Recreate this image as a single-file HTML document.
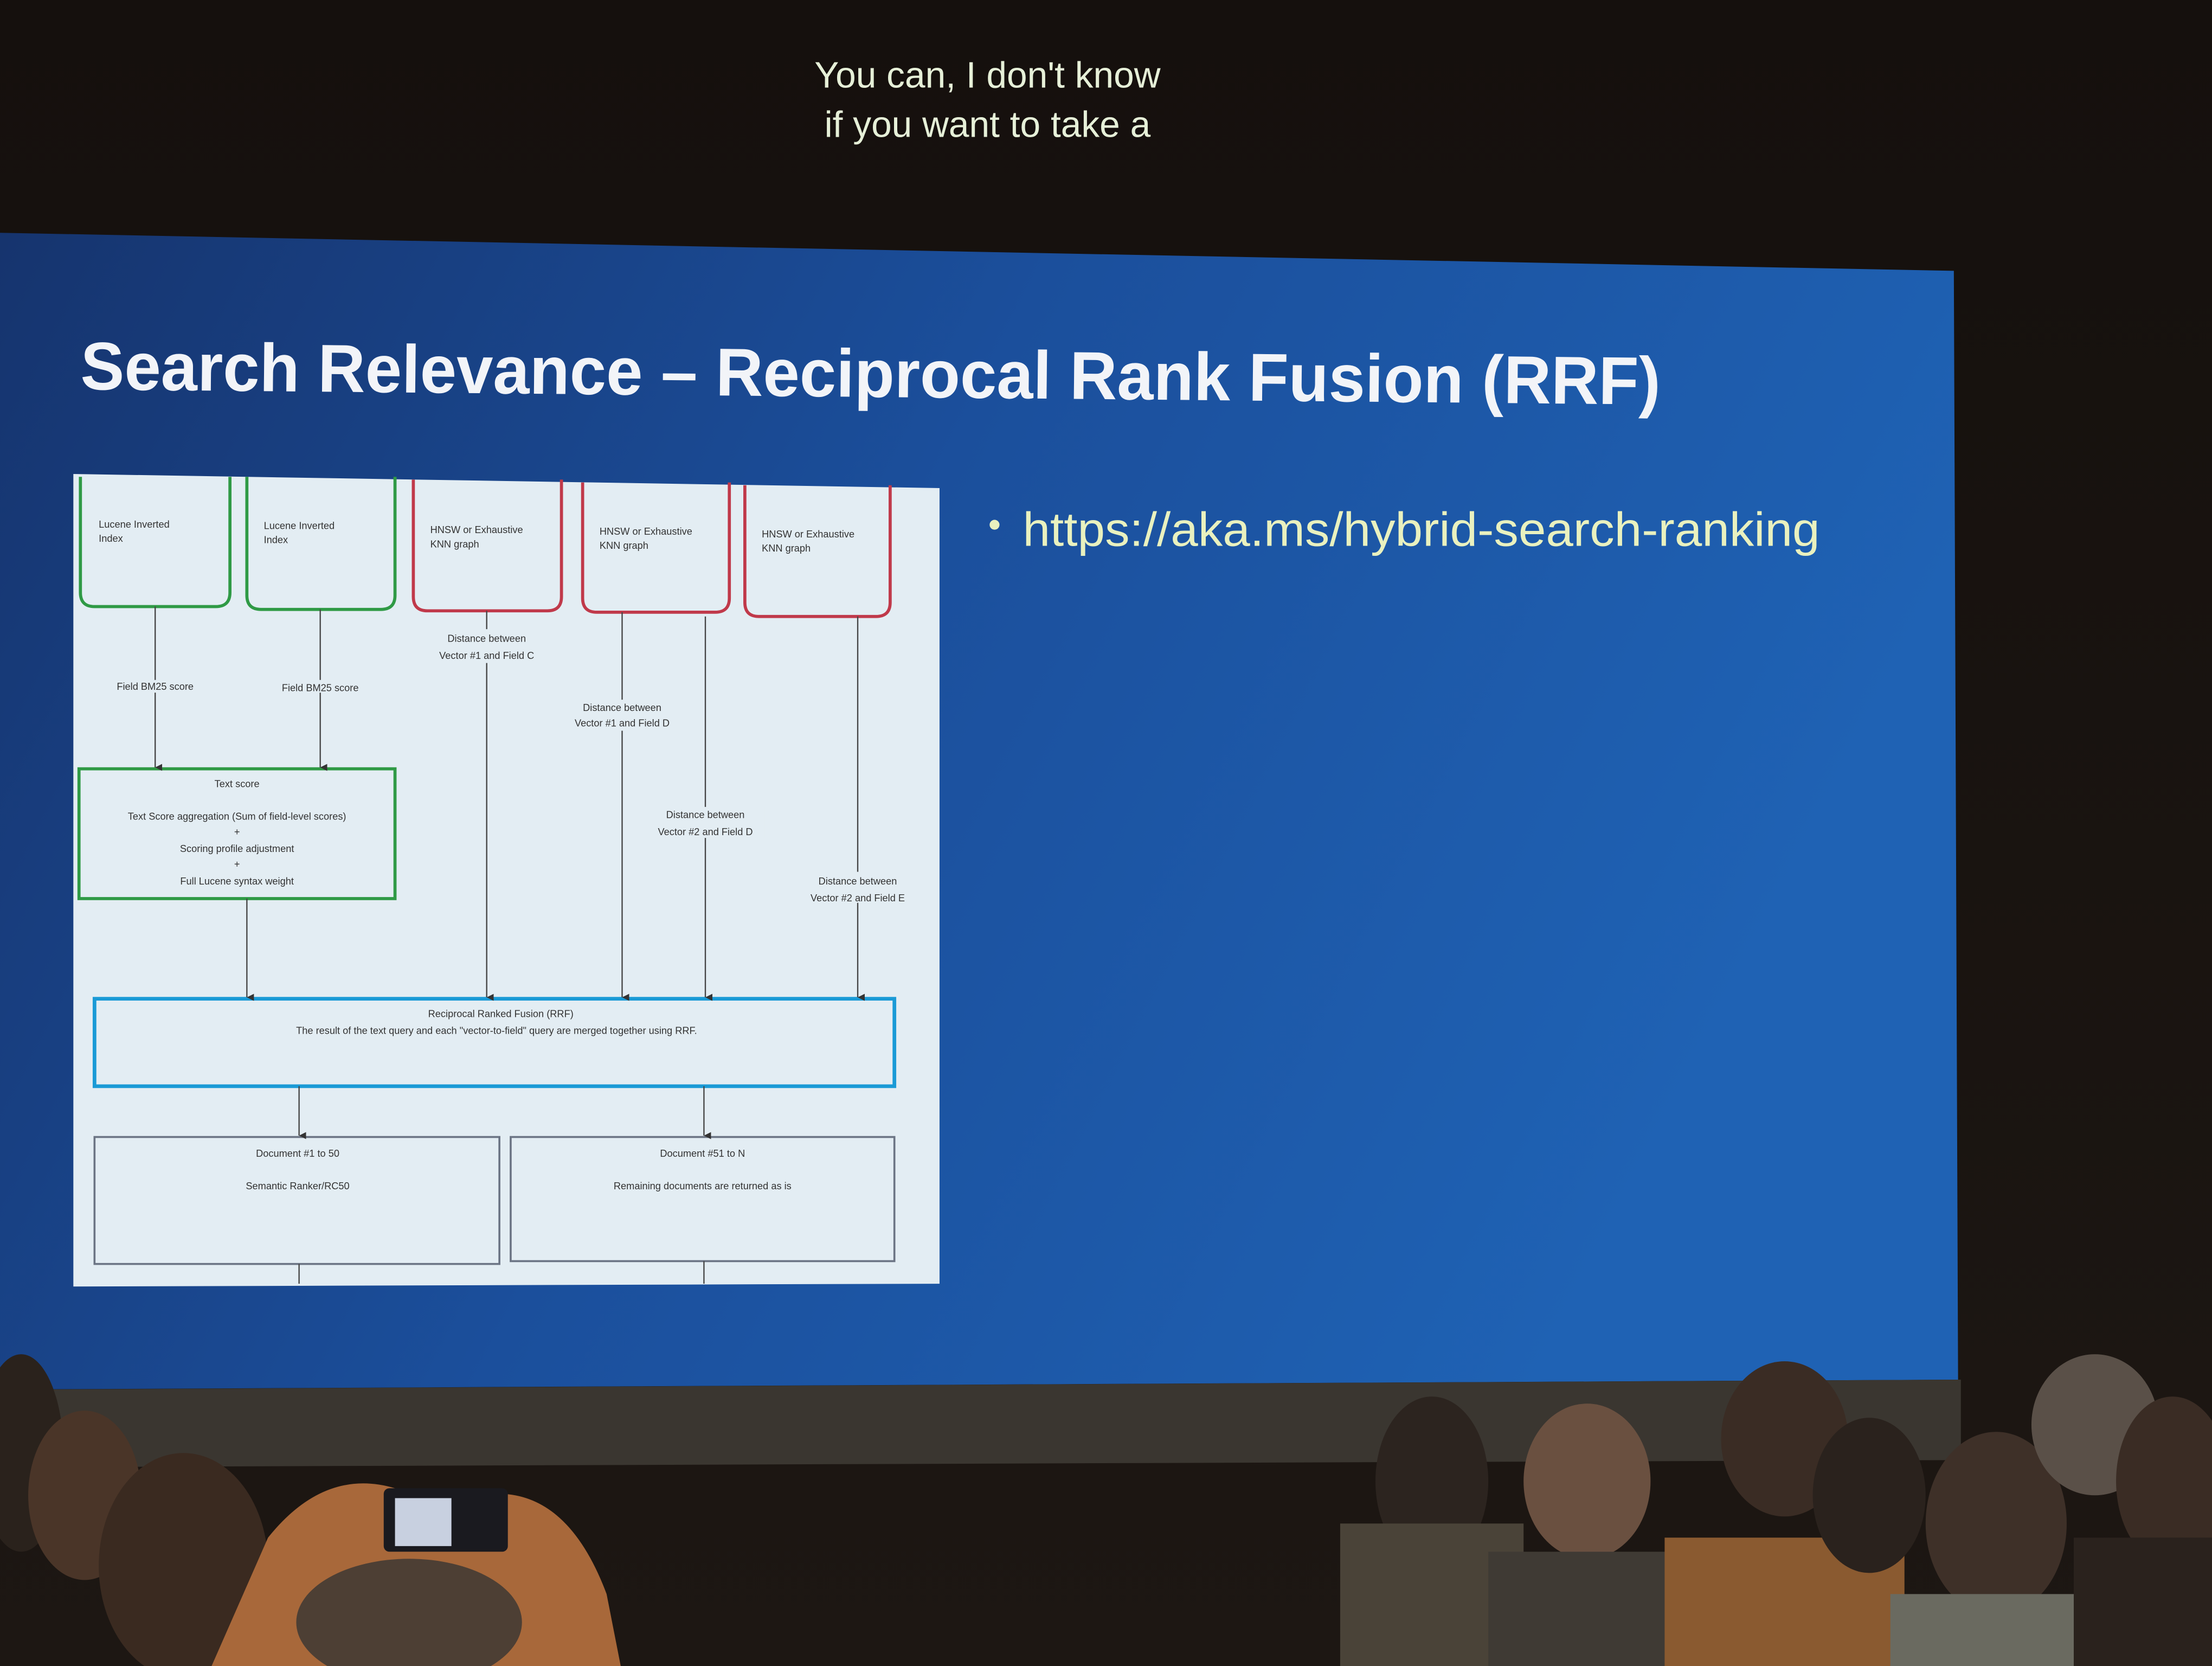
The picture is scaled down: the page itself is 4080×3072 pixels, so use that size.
<!DOCTYPE html>
<html><head><meta charset="utf-8"><style>
html,body{margin:0;padding:0;background:#17120f;}
svg{display:block}
</style></head><body>
<svg width="4080" height="3072" viewBox="0 0 1568 1181" preserveAspectRatio="none" xmlns="http://www.w3.org/2000/svg" font-family="Liberation Sans, sans-serif">
<defs>
<linearGradient id="sl" x1="0" y1="0" x2="1" y2="0.3">
<stop offset="0" stop-color="#16346e"/><stop offset="0.5" stop-color="#1b4f9c"/><stop offset="1" stop-color="#1f62b4"/>
</linearGradient>
<linearGradient id="bg" x1="0" y1="0" x2="0" y2="1">
<stop offset="0" stop-color="#15100d"/><stop offset="1" stop-color="#1d1713"/>
</linearGradient>
<marker id="a" markerWidth="6" markerHeight="6" refX="3" refY="5" orient="auto" markerUnits="userSpaceOnUse"><path d="M0.5,0 L3,5 L5.5,0 Z" fill="#333"/></marker>
</defs>
<rect width="1568" height="1181" fill="url(#bg)"/>
<text x="700" y="62" font-size="26" fill="#e6f0d8" text-anchor="middle">You can, I don't know</text>
<text x="700" y="97" font-size="26" fill="#e6f0d8" text-anchor="middle">if you want to take a</text>
<polygon points="0,165 1385,192 1388,978 0,985" fill="url(#sl)"/>
<text x="57" y="276" font-size="48" font-weight="bold" fill="#f2f4f8" textLength="1120" lengthAdjust="spacingAndGlyphs" transform="rotate(0.55 57 276)">Search Relevance – Reciprocal Rank Fusion (RRF)</text>
<circle cx="705" cy="372" r="3.5" fill="#e9f1bf"/>
<text x="725" y="387" font-size="34" fill="#e9f1bf" textLength="565" lengthAdjust="spacingAndGlyphs">https://aka.ms/hybrid-search-ranking</text>
<polygon points="52,336 666,346 666,910 52,912" fill="#e3edf3"/>
<g fill="none" stroke-width="2.2">
<path d="M57,338 V420 Q57,430 67,430 H153 Q163,430 163,420 V338" stroke="#2f9a45"/>
<path d="M175,338 V422 Q175,432 185,432 H270 Q280,432 280,422 V338" stroke="#2f9a45"/>
<path d="M293,340 V423 Q293,433 303,433 H388 Q398,433 398,423 V340" stroke="#c0394a"/>
<path d="M413,342 V424 Q413,434 423,434 H507 Q517,434 517,424 V342" stroke="#c0394a"/>
<path d="M528,344 V427 Q528,437 538,437 H621 Q631,437 631,427 V344" stroke="#c0394a"/>
<rect x="56" y="545" width="224" height="92" stroke="#2f9a45"/>
<rect x="67" y="708" width="567" height="62" stroke="#1a9ad6" stroke-width="2.6"/>
<rect x="67" y="806" width="287" height="90" stroke="#6b7484" stroke-width="1.4"/>
<rect x="362" y="806" width="272" height="88" stroke="#6b7484" stroke-width="1.4"/>
</g>
<g stroke="#444" stroke-width="0.9" fill="none">
<line x1="110" y1="430" x2="110" y2="544" marker-end="url(#a)"/>
<line x1="227" y1="432" x2="227" y2="544" marker-end="url(#a)"/>
<line x1="345" y1="433" x2="345" y2="707" marker-end="url(#a)"/>
<line x1="441" y1="434" x2="441" y2="707" marker-end="url(#a)"/>
<line x1="500" y1="437" x2="500" y2="707" marker-end="url(#a)"/>
<line x1="608" y1="437" x2="608" y2="707" marker-end="url(#a)"/>
<line x1="175" y1="637" x2="175" y2="707" marker-end="url(#a)"/>
<line x1="212" y1="770" x2="212" y2="805" marker-end="url(#a)"/>
<line x1="499" y1="770" x2="499" y2="805" marker-end="url(#a)"/>
<line x1="212" y1="896" x2="212" y2="910"/>
<line x1="499" y1="894" x2="499" y2="910"/>
</g>
<g font-size="7" fill="#333">
<text x="70" y="374">Lucene Inverted</text><text x="70" y="384">Index</text>
<text x="187" y="375">Lucene Inverted</text><text x="187" y="385">Index</text>
<text x="305" y="378">HNSW or Exhaustive</text><text x="305" y="388">KNN graph</text>
<text x="425" y="379">HNSW or Exhaustive</text><text x="425" y="389">KNN graph</text>
<text x="540" y="381">HNSW or Exhaustive</text><text x="540" y="391">KNN graph</text>
<g text-anchor="middle">
<rect x="305" y="446" width="80" height="24" fill="#e3edf3"/>
<text x="345" y="455">Distance between</text><text x="345" y="467">Vector #1 and Field C</text>
<rect x="400" y="496" width="84" height="22" fill="#e3edf3"/>
<text x="441" y="504">Distance between</text><text x="441" y="515">Vector #1 and Field D</text>
<rect x="458" y="572" width="84" height="22" fill="#e3edf3"/>
<text x="500" y="580">Distance between</text><text x="500" y="592">Vector #2 and Field D</text>
<rect x="566" y="618" width="84" height="22" fill="#e3edf3"/>
<text x="608" y="627">Distance between</text><text x="608" y="639">Vector #2 and Field E</text>
<rect x="76" y="482" width="70" height="9" fill="#e3edf3"/>
<text x="110" y="489">Field BM25 score</text>
<rect x="192" y="482" width="70" height="9" fill="#e3edf3"/>
<text x="227" y="490">Field BM25 score</text>
<text x="168" y="558">Text score</text>
<text x="168" y="581">Text Score aggregation (Sum of field-level scores)</text>
<text x="168" y="592">+</text>
<text x="168" y="604">Scoring profile adjustment</text>
<text x="168" y="615">+</text>
<text x="168" y="627">Full Lucene syntax weight</text>
<text x="355" y="721">Reciprocal Ranked Fusion (RRF)</text>
<text x="352" y="733">The result of the text query and each "vector-to-field" query are merged together using RRF.</text>
<text x="211" y="820">Document #1 to 50</text>
<text x="211" y="843">Semantic Ranker/RC50</text>
<text x="498" y="820">Document #51 to N</text>
<text x="498" y="843">Remaining documents are returned as is</text>
</g>
</g>
<polygon points="30,985 1390,978 1390,1035 30,1040" fill="#3a3630"/>
<g fill="#2a221c">
<ellipse cx="15" cy="1030" rx="30" ry="70"/>
<ellipse cx="60" cy="1060" rx="40" ry="60" fill="#4a3528"/>
<ellipse cx="130" cy="1110" rx="60" ry="80" fill="#3a2a20"/>
<path d="M150,1181 L190,1090 Q230,1040 280,1055 L300,1100 L340,1060 Q400,1050 430,1130 L440,1181 Z" fill="#a8683a"/>
<rect x="272" y="1055" width="88" height="45" rx="4" fill="#1a1a1f"/>
<rect x="280" y="1062" width="40" height="34" fill="#c8d0e0"/>
<ellipse cx="290" cy="1150" rx="80" ry="45" fill="#4d3f34"/>
<ellipse cx="1015" cy="1050" rx="40" ry="60" fill="#2c241f"/>
<rect x="950" y="1080" width="130" height="101" fill="#4a4338"/>
<ellipse cx="1125" cy="1050" rx="45" ry="55" fill="#6a5040"/>
<rect x="1055" y="1100" width="150" height="81" fill="#3f3a34"/>
<ellipse cx="1265" cy="1020" rx="45" ry="55" fill="#3a2c24"/>
<rect x="1180" y="1090" width="170" height="91" fill="#8a5a30"/>
<ellipse cx="1325" cy="1060" rx="40" ry="55" fill="#2a221d"/>
<ellipse cx="1415" cy="1080" rx="50" ry="65" fill="#3e3028"/>
<rect x="1340" y="1130" width="140" height="51" fill="#6a6a60"/>
<ellipse cx="1485" cy="1010" rx="45" ry="50" fill="#5a5048"/>
<ellipse cx="1540" cy="1050" rx="40" ry="60" fill="#3a2c24"/>
<rect x="1470" y="1090" width="98" height="91" fill="#2a221d"/>
</g>
</svg>
</body></html>
